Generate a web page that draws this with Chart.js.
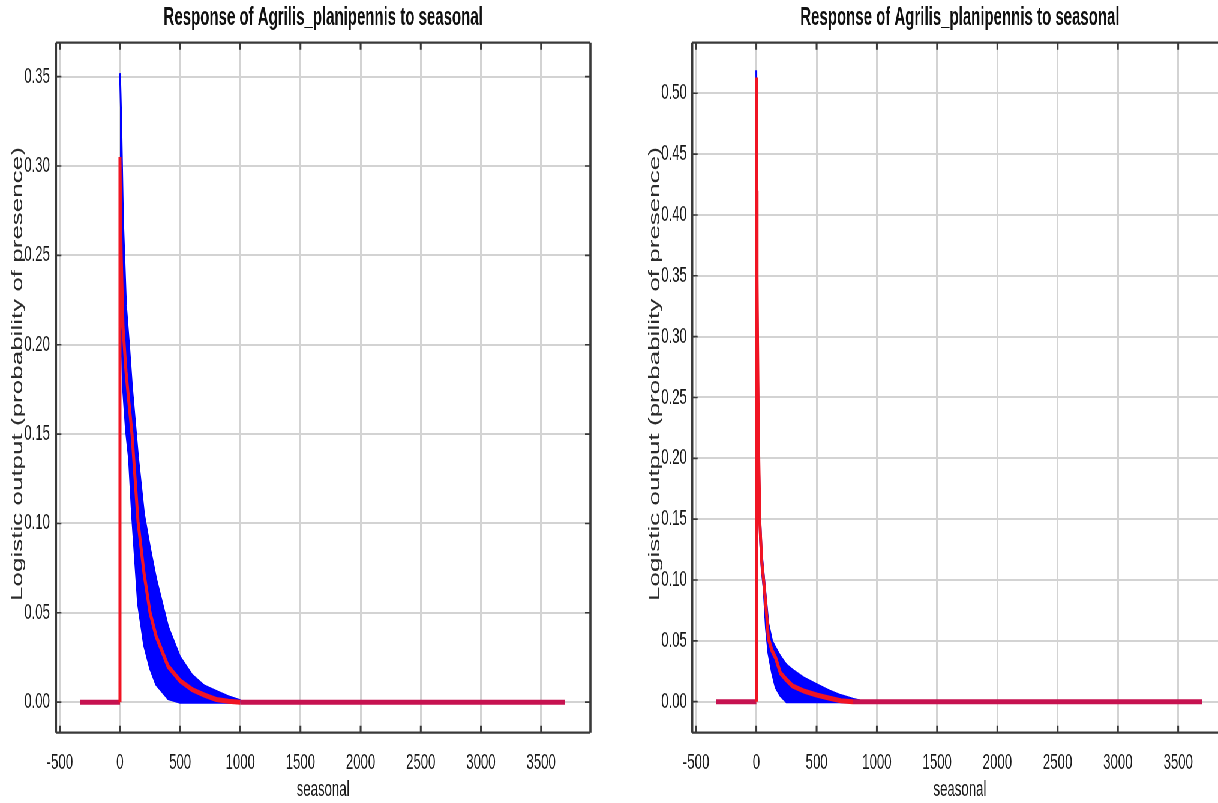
<!DOCTYPE html>
<html>
<head>
<meta charset="utf-8">
<title>Response of Agrilis_planipennis to seasonal</title>
<script src="https://cdn.jsdelivr.net/npm/chart.js@4.4.0/dist/chart.umd.min.js"></script>
<style>
  html, body { margin: 0; padding: 0; background: #fff; overflow: hidden; }
  /* both panels are drawn wide and squeezed horizontally, like the exported figure */
  #stage { position: absolute; left: 0; top: 0; width: 2070px; height: 803px;
           transform: scaleX(0.6); transform-origin: 0 0; }
  .panel { position: absolute; top: 0; height: 803px; }
</style>
</head>
<body>
<div id="stage">
  <div class="panel" style="left:0;width:1017px"><canvas id="chartLeft"></canvas></div>
  <div class="panel" style="left:1017px;width:1050px"><canvas id="chartRight"></canvas></div>
</div>
<script>
const TITLE = 'Response of Agrilis_planipennis to seasonal';
const X_LABEL = 'seasonal';
const Y_LABEL = 'Logistic output (probability of presence)';
const FONT = "'Liberation Sans', Arial, Helvetica, sans-serif";

// tick values
const xTickValues = [-500, 0, 500, 1000, 1500, 2000, 2500, 3000, 3500];
const yTicksLeft = [0, 0.05, 0.10, 0.15, 0.20, 0.25, 0.30, 0.35];
const yTicksRight = [0, 0.05, 0.10, 0.15, 0.20, 0.25, 0.30, 0.35, 0.40, 0.45, 0.50];

// response is flat zero outside the sampled range
const baselineStart = -333;
const baselineEnd = 3700;

// left model: mean response and +/- one sd band
const seasonalL = [0, 5, 10, 25, 50, 75, 100, 150, 200, 250, 300, 400, 500, 600, 700, 800, 900, 1000];
const meanL  = [0.305, 0.272, 0.250, 0.210, 0.185, 0.167, 0.150, 0.101, 0.072, 0.050, 0.037, 0.020, 0.012, 0.007, 0.004, 0.0015, 0.0005, 0];
const upperL = [0.352, 0.340, 0.326, 0.270, 0.222, 0.200, 0.176, 0.137, 0.105, 0.086, 0.069, 0.042, 0.025, 0.015, 0.009, 0.006, 0.003, 0.0008];
const lowerL = [0.262, 0.235, 0.212, 0.176, 0.152, 0.136, 0.105, 0.055, 0.032, 0.019, 0.010, 0.002, 0, 0, 0, 0, 0, 0];

// right model
const seasonalR = [0, 3, 6, 10, 15, 20, 30, 45, 60, 80, 100, 130, 160, 200, 250, 300, 400, 500, 600, 700, 800, 860];
const meanR  = [0.513, 0.420, 0.350, 0.295, 0.240, 0.200, 0.145, 0.115, 0.100, 0.078, 0.052, 0.042, 0.036, 0.0235, 0.018, 0.013, 0.0085, 0.0055, 0.003, 0.0008, 0, 0];
const upperR = [0.519, 0.440, 0.370, 0.320, 0.260, 0.215, 0.155, 0.122, 0.106, 0.085, 0.064, 0.050, 0.044, 0.037, 0.030, 0.026, 0.019, 0.014, 0.009, 0.005, 0.002, 0.0005];
const lowerR = [0.505, 0.400, 0.330, 0.270, 0.220, 0.185, 0.135, 0.108, 0.094, 0.060, 0.040, 0.024, 0.012, 0.005, 0, 0, 0, 0, 0, 0, 0, 0];

const RED = 'rgb(240,20,35)';
const BASELINE_RED = 'rgb(198,18,80)';
const BLUE = '#0000ff';

function points(xs, ys) {
  return xs.map((x, i) => ({x: x, y: ys[i]}));
}

function meanSeries(xs, ys) {
  return [{x: baselineStart, y: 0}, {x: 0, y: 0}].concat(points(xs, ys), [{x: baselineEnd, y: 0}]);
}

// box with inward ticks on all four sides, plus the rotated y label
const framePlugin = {
  id: 'frame',
  afterDatasetsDraw(chart, args, opts) {
    const {ctx, chartArea: a, scales: {x, y}} = chart;
    ctx.save();
    ctx.strokeStyle = '#3a3a3a';

    ctx.lineWidth = 3;
    ctx.beginPath();
    x.ticks.forEach(t => {
      const px = x.getPixelForValue(t.value);
      ctx.moveTo(px, a.top); ctx.lineTo(px, a.top + 7);
      ctx.moveTo(px, a.bottom); ctx.lineTo(px, a.bottom - 7);
    });
    ctx.stroke();

    ctx.lineWidth = 1.6;
    ctx.beginPath();
    y.ticks.forEach(t => {
      const py = y.getPixelForValue(t.value);
      ctx.moveTo(a.left, py); ctx.lineTo(a.left + 9, py);
      ctx.moveTo(a.right, py); ctx.lineTo(a.right - 9, py);
    });
    ctx.stroke();

    ctx.lineWidth = 2.2;
    ctx.beginPath();
    ctx.moveTo(a.left, a.top); ctx.lineTo(a.right, a.top);
    ctx.moveTo(a.left, a.bottom); ctx.lineTo(a.right, a.bottom);
    ctx.stroke();
    ctx.lineWidth = 3.6;
    ctx.beginPath();
    ctx.moveTo(a.left, a.top); ctx.lineTo(a.left, a.bottom);
    ctx.moveTo(a.right, a.top); ctx.lineTo(a.right, a.bottom);
    ctx.stroke();

    ctx.translate(opts.labelX, opts.labelY);
    ctx.rotate(-Math.PI / 2);
    ctx.font = '26px ' + FONT;
    ctx.fillStyle = '#2b2b2b';
    ctx.textAlign = 'center';
    ctx.textBaseline = 'middle';
    ctx.fillText(Y_LABEL, 0, 0);
    ctx.restore();
  }
};

function buildChart(id, cfg) {
  return new Chart(document.getElementById(id), {
    type: 'line',
    data: {
      datasets: [
        { label: 'mean', data: meanSeries(cfg.xs, cfg.mean),
          borderColor: RED, borderWidth: 5, pointRadius: 0, fill: false,
          // flat stretches sit on top of the band's zero line and read darker
          segment: {
            borderColor: c => (c.p0.parsed.y === 0 && c.p1.parsed.y === 0) ? BASELINE_RED : undefined
          } },
        { label: 'mean - sd', data: points(cfg.xs, cfg.lower),
          borderColor: BLUE, borderWidth: 3, pointRadius: 0, fill: false },
        { label: 'mean + sd', data: points(cfg.xs, cfg.upper),
          borderColor: BLUE, backgroundColor: BLUE, borderWidth: 3, pointRadius: 0, fill: 1 }
      ]
    },
    options: {
      animation: false,
      responsive: true,
      maintainAspectRatio: false,
      layout: { padding: { left: 0, right: cfg.padRight, top: 0, bottom: 0 } },
      plugins: {
        legend: { display: false },
        tooltip: { enabled: false },
        title: {
          display: true, text: TITLE, fullSize: false, color: '#111',
          font: { family: FONT, size: 25, weight: 'bold', lineHeight: 1.2 },
          padding: { top: 3.5, bottom: 9.2 }
        },
        frame: { labelX: cfg.labelX, labelY: 374 }
      },
      scales: {
        x: {
          type: 'linear', bounds: 'data', min: -532, max: 3910,
          afterBuildTicks: s => { s.ticks = xTickValues.map(v => ({value: v})); },
          afterFit: s => { s.height = 70.3; },
          grid: { color: '#d3d3d3', lineWidth: 3, drawTicks: false },
          border: { display: false },
          ticks: { padding: 17, color: '#1a1a1a', font: { family: FONT, size: 22 },
                   maxRotation: 0, callback: v => String(v) },
          title: { display: true, text: X_LABEL, color: '#1a1a1a',
                   font: { family: FONT, size: 22, lineHeight: 1.2 }, padding: { top: 0, bottom: 0 } }
        },
        y: {
          type: 'linear', bounds: 'data', min: cfg.yMin, max: cfg.yMax,
          afterBuildTicks: s => { s.ticks = cfg.yTicks.map(v => ({value: v})); },
          afterFit: s => { s.width = cfg.axisWidth; },
          grid: { color: '#d3d3d3', lineWidth: 2, drawTicks: false },
          border: { display: false },
          ticks: { padding: cfg.tickPad, color: '#1a1a1a', font: { family: FONT, size: 22 },
                   callback: v => v.toFixed(2) }
        }
      }
    },
    plugins: [framePlugin]
  });
}

buildChart('chartLeft', {
  xs: seasonalL, mean: meanL, upper: upperL, lower: lowerL,
  yMin: -0.0171, yMax: 0.369, yTicks: yTicksLeft,
  axisWidth: 93.3, tickPad: 10, padRight: 33, labelX: 30
});

buildChart('chartRight', {
  xs: seasonalR, mean: meanR, upper: upperR, lower: lowerR,
  yMin: -0.0255, yMax: 0.5416, yTicks: yTicksRight,
  axisWidth: 136.7, tickPad: 9, padRight: 21, labelX: 75
});
</script>
</body>
</html>
